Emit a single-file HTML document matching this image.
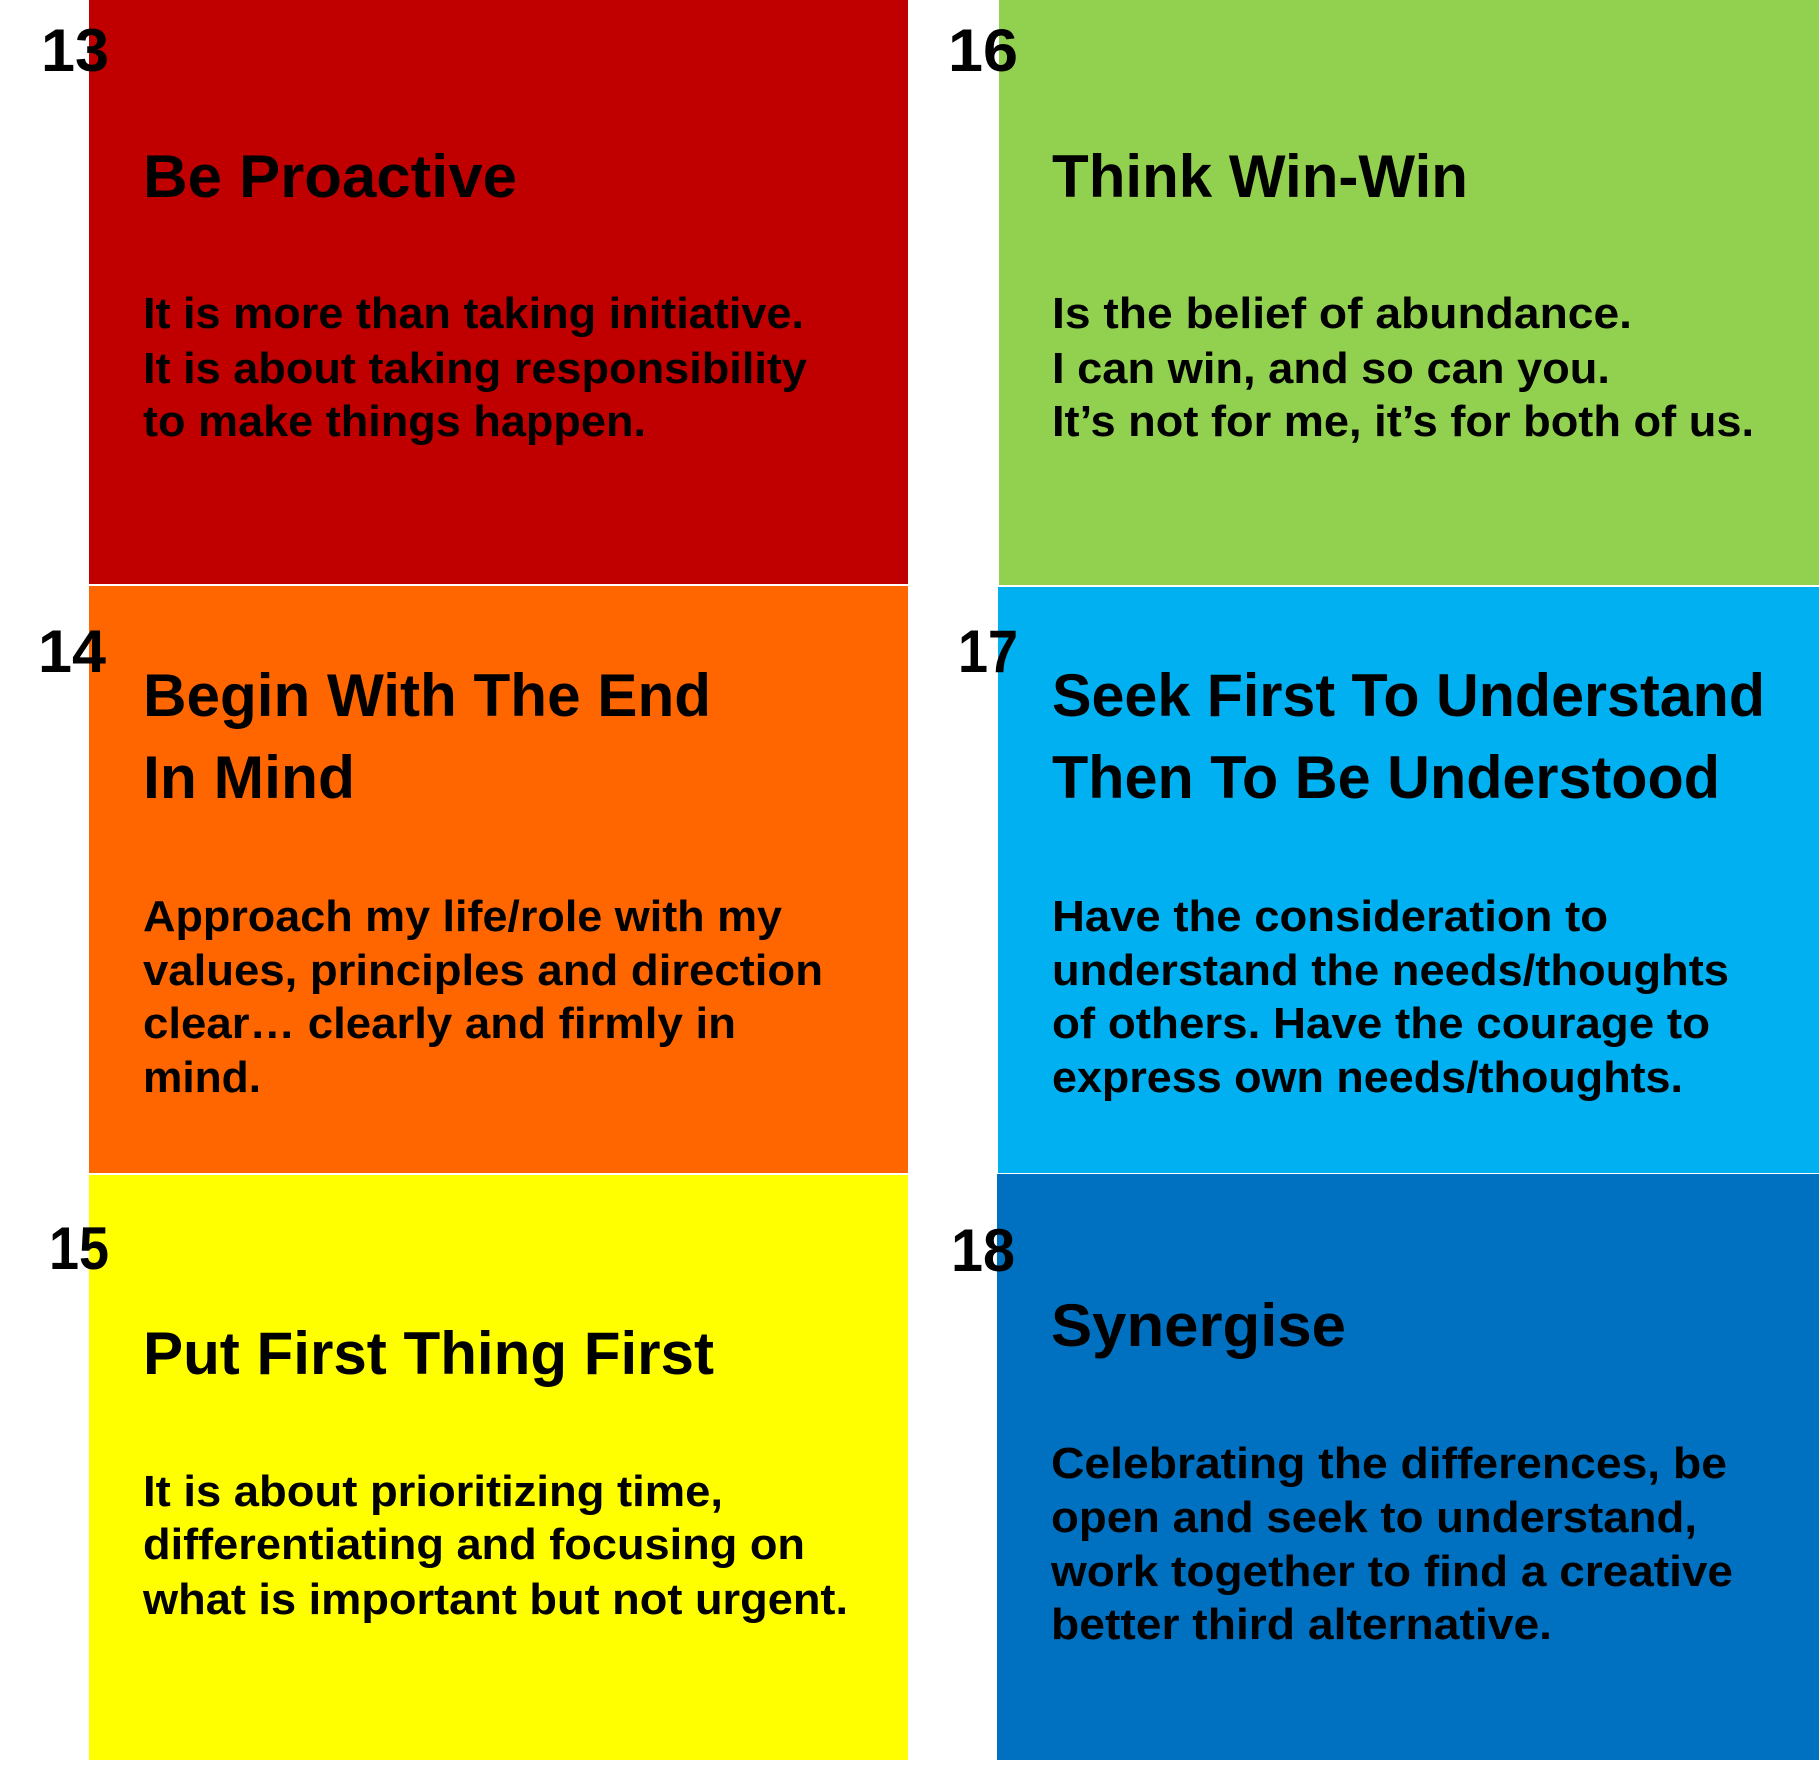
<!DOCTYPE html>
<html><head><meta charset="utf-8"><style>html,body{margin:0;padding:0;background:#fff}</style></head>
<body>
<svg xmlns="http://www.w3.org/2000/svg" width="1819" height="1760" viewBox="0 0 1819 1760" font-family="Liberation Sans, sans-serif" font-weight="bold" fill="#000">
<rect x="89" y="0" width="819" height="584" fill="#c00000"/>
<rect x="999" y="0" width="820" height="585" fill="#92d050"/>
<rect x="89" y="586" width="819" height="587" fill="#ff6600"/>
<rect x="998" y="587" width="821" height="586" fill="#00b0f0"/>
<rect x="89" y="1175" width="819" height="585" fill="#ffff00"/>
<rect x="997" y="1174" width="822" height="586" fill="#0070c0"/>

<g transform="translate(0,3)">
<g font-size="60">
<text x="41" y="68" textLength="68" lengthAdjust="spacingAndGlyphs">13</text>
<text x="948" y="68" textLength="70" lengthAdjust="spacingAndGlyphs">16</text>
<text x="38" y="669" textLength="68" lengthAdjust="spacingAndGlyphs">14</text>
<text x="958" y="669" textLength="60" lengthAdjust="spacingAndGlyphs">17</text>
<text x="49" y="1266" textLength="60" lengthAdjust="spacingAndGlyphs">15</text>
<text x="951" y="1268" textLength="64" lengthAdjust="spacingAndGlyphs">18</text>
</g>

<g font-size="60">
<text x="143" y="194" textLength="374" lengthAdjust="spacingAndGlyphs">Be Proactive</text>
<text x="1052" y="194" textLength="416" lengthAdjust="spacingAndGlyphs">Think Win-Win</text>
<text x="143" y="713" textLength="568" lengthAdjust="spacingAndGlyphs">Begin With The End</text>
<text x="143" y="795" textLength="212" lengthAdjust="spacingAndGlyphs">In Mind</text>
<text x="1052" y="713" textLength="713" lengthAdjust="spacingAndGlyphs">Seek First To Understand</text>
<text x="1052" y="795" textLength="668" lengthAdjust="spacingAndGlyphs">Then To Be Understood</text>
<text x="143" y="1371" textLength="571" lengthAdjust="spacingAndGlyphs">Put First Thing First</text>
<text x="1051" y="1343" textLength="295" lengthAdjust="spacingAndGlyphs">Synergise</text>
</g>

<g font-size="44">
<text x="143" y="325" textLength="661" lengthAdjust="spacingAndGlyphs">It is more than taking initiative.</text>
<text x="143" y="380" textLength="664" lengthAdjust="spacingAndGlyphs">It is about taking responsibility</text>
<text x="143" y="433" textLength="503" lengthAdjust="spacingAndGlyphs">to make things happen.</text>

<text x="1052" y="325" textLength="580" lengthAdjust="spacingAndGlyphs">Is the belief of abundance.</text>
<text x="1052" y="380" textLength="558" lengthAdjust="spacingAndGlyphs">I can win, and so can you.</text>
<text x="1052" y="433" textLength="702" lengthAdjust="spacingAndGlyphs">It’s not for me, it’s for both of us.</text>

<text x="143" y="928" textLength="639" lengthAdjust="spacingAndGlyphs">Approach my life/role with my</text>
<text x="143" y="982" textLength="680" lengthAdjust="spacingAndGlyphs">values, principles and direction</text>
<text x="143" y="1035" textLength="593" lengthAdjust="spacingAndGlyphs">clear… clearly and firmly in</text>
<text x="143" y="1089" textLength="118" lengthAdjust="spacingAndGlyphs">mind.</text>

<text x="1052" y="928" textLength="556" lengthAdjust="spacingAndGlyphs">Have the consideration to</text>
<text x="1052" y="982" textLength="677" lengthAdjust="spacingAndGlyphs">understand the needs/thoughts</text>
<text x="1052" y="1035" textLength="658" lengthAdjust="spacingAndGlyphs">of others. Have the courage to</text>
<text x="1052" y="1089" textLength="631" lengthAdjust="spacingAndGlyphs">express own needs/thoughts.</text>

<text x="143" y="1503" textLength="580" lengthAdjust="spacingAndGlyphs">It is about prioritizing time,</text>
<text x="143" y="1556" textLength="662" lengthAdjust="spacingAndGlyphs">differentiating and focusing on</text>
<text x="143" y="1611" textLength="705" lengthAdjust="spacingAndGlyphs">what is important but not urgent.</text>

<text x="1051" y="1475" textLength="676" lengthAdjust="spacingAndGlyphs">Celebrating the differences, be</text>
<text x="1051" y="1529" textLength="646" lengthAdjust="spacingAndGlyphs">open and seek to understand,</text>
<text x="1051" y="1583" textLength="682" lengthAdjust="spacingAndGlyphs">work together to find a creative</text>
<text x="1051" y="1636" textLength="501" lengthAdjust="spacingAndGlyphs">better third alternative.</text>
</g>
</g>
</svg>
</body></html>
